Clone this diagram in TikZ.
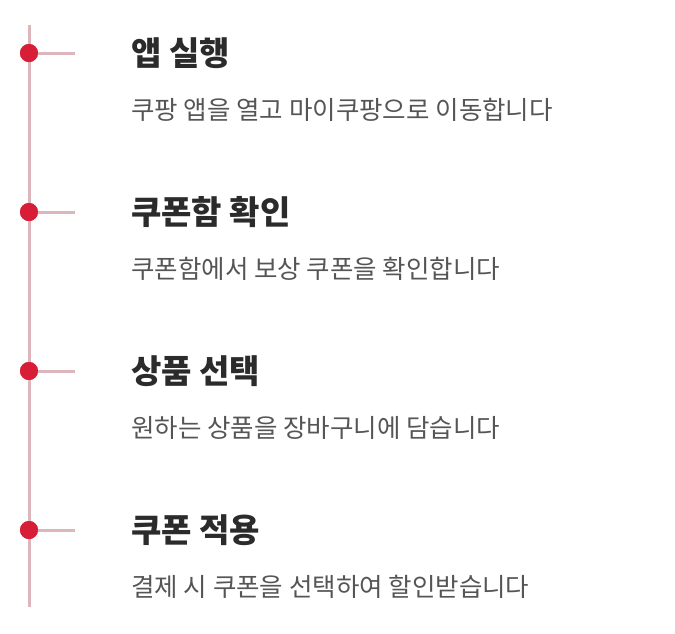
\documentclass[tikz,border=0pt]{standalone}
\usepackage{fontspec}
\newfontfamily\kr{Noto Sans CJK KR}
\definecolor{lineC}{HTML}{DDB6BC}
\definecolor{dotC}{HTML}{D81E36}
\definecolor{titleC}{HTML}{2B2B2B}
\definecolor{descC}{HTML}{555555}
\tikzset{
  dotmark/.style={circle,fill=dotC,inner sep=0pt,minimum size=18pt},
  ttl/.style={anchor=west,inner sep=0pt,font=\kr\bfseries\fontsize{33}{36}\selectfont,text=titleC},
  dsc/.style={anchor=west,inner sep=0pt,font=\kr\fontsize{25.5}{28}\selectfont,text=descC},
  tick/.style={draw=lineC,line width=3pt}
}
\begin{document}
\begin{tikzpicture}[x=1pt,y=-1pt]
\useasboundingbox (0,0) rectangle (675,633);
\coordinate (top) at (29,25);
\coordinate (bot) at (29,607);
\draw[lineC,line width=3pt] (top) -- (bot);
\foreach \i/\y/\t/\d in {1/53/앱 실행/쿠팡 앱을 열고 마이쿠팡으로 이동합니다,
  2/212/쿠폰함 확인/쿠폰함에서 보상 쿠폰을 확인합니다,
  3/371/상품 선택/원하는 상품을 장바구니에 담습니다,
  4/530/쿠폰 적용/결제 시 쿠폰을 선택하여 할인받습니다}{
  \coordinate (e\i) at (75,\y);
  \node[dotmark] (d\i) at (29,\y) {};
  \draw[tick] (d\i.center) -- (e\i);
  \node[dotmark] at (29,\y) {};
  \node[ttl] (t\i) at (131,\y) {\t};
  \node[dsc] (s\i) at (131,\y+57) {\d};
}
\end{tikzpicture}
\end{document}
